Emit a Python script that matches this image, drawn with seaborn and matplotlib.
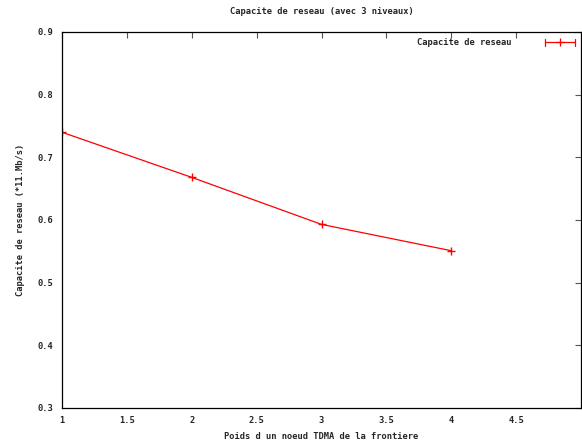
import numpy as np
import pandas as pd
import matplotlib
matplotlib.use("Agg")
import matplotlib.pyplot as plt
import seaborn as sns
from matplotlib.lines import Line2D
from matplotlib.legend_handler import HandlerBase

# data
poids = [1, 2, 3, 4]
capacite = [0.740, 0.668, 0.593, 0.551]
x_ticks = [1, 1.5, 2, 2.5, 3, 3.5, 4, 4.5]
x_labels = ["1", "1.5", "2", "2.5", "3", "3.5", "4", "4.5"]
y_ticks = [0.3, 0.4, 0.5, 0.6, 0.7, 0.8, 0.9]

sns.set_style("white")
plt.rcParams['font.family'] = ['DejaVu Sans Mono']
plt.rcParams['font.weight'] = 'bold'
plt.rcParams['font.size'] = 6.3


class KeyHandler(HandlerBase):
    # gnuplot style key sample: |---+---|
    def create_artists(self, legend, orig, xd, yd, width, height, fontsize, trans):
        y = height / 2 - yd
        x0, x1 = -xd, -xd + width
        c = "#ff0000"
        arts = [Line2D([x0, x1], [y, y], color=c, linewidth=0.9),
                Line2D([x0, x0], [y - 2.5, y + 2.5], color=c, linewidth=0.9),
                Line2D([x1, x1], [y - 2.5, y + 2.5], color=c, linewidth=0.9),
                Line2D([(x0 + x1) / 2], [y], color=c, marker="+",
                       markersize=6, markeredgewidth=0.9, linewidth=0)]
        for a in arts:
            a.set_transform(trans)
        return arts


df = pd.DataFrame({"poids": poids, "capacite": capacite})

fig = plt.figure(figsize=(5.82, 4.43), dpi=100)
ax = fig.add_axes([62 / 582, 1 - 408 / 443, 519 / 582, 376 / 443])

sns.lineplot(data=df, x="poids", y="capacite", ax=ax, color="#ff0000",
             linewidth=0.9, marker="+", markersize=6, markeredgewidth=1.0,
             markeredgecolor="#ff0000")

ax.set_xlim(1, 5)
ax.set_ylim(0.3, 0.9)
ax.set_xticks(x_ticks)
ax.set_xticklabels(x_labels)
ax.set_yticks(y_ticks)
ax.set_yticklabels([f"{v:.1f}" for v in y_ticks])
ax.tick_params(direction="in", length=4, width=0.8, color="#555555",
               top=True, right=True, labelsize=6.3, pad=6)
for s in ax.spines.values():
    s.set_color("black")
    s.set_linewidth(0.9)

ax.set_title("Capacite de reseau (avec 3 niveaux)", fontsize=6.3,
             fontweight="bold", pad=13)
ax.set_xlabel("Poids d un noeud TDMA de la frontiere", fontsize=6.3,
              fontweight="bold", labelpad=5)
ax.set_ylabel("Capacite de reseau (*11.Mb/s)", fontsize=6.3,
              fontweight="bold", labelpad=9)

key = Line2D([], [], color="#ff0000")
ax.legend([key], ["Capacite de reseau"], loc="upper right",
          frameon=False, markerfirst=False, handlelength=3.4,
          handletextpad=3.8, borderaxespad=0.3, borderpad=0.4, fontsize=6.3,
          handler_map={key: KeyHandler()})

fig.savefig("out.png", dpi=100)
